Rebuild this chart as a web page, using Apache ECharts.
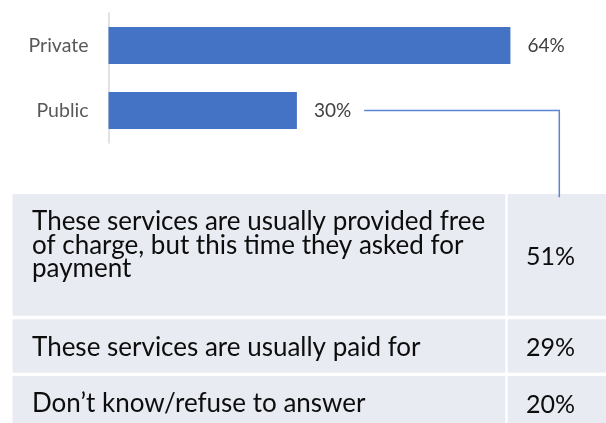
<!DOCTYPE html>
<html>
<head>
<meta charset="utf-8">
<script src="https://cdn.jsdelivr.net/npm/echarts@6/dist/echarts.min.js"></script>
<style>
  html, body { margin: 0; padding: 0; background: #fff; }
  #chart { width: 606px; height: 423px; }
</style>
</head>
<body>
<div id="chart"></div>
<script>
// Provider type shares
const categories = ['Private', 'Public'];
const shares = [64, 30];

// Breakdown of the public-provider answers
const answerLabels = [
  'These services are usually provided free of charge, but this time they asked for payment',
  'These services are usually paid for',
  'Don\u2019t know/refuse to answer'
];
const answerShares = [51, 29, 20];

const FONT = 'Lato, "Noto Sans", sans-serif';
const chart = echarts.init(document.getElementById('chart'), null, { renderer: 'canvas' });

// Table layout
const tableLeft = 12.5, col1Right = 505.3, col2Left = 507.7, tableRight = 612;
const rowTops = [194, 319.3, 376];
const rowBottoms = [315.7, 372.7, 430];
const labelFont = 26, valueFont = 25, tableLineHeight = 23.5;

const tableGraphics = [];
answerLabels.forEach((label, i) => {
  const top = rowTops[i], bottom = rowBottoms[i];
  tableGraphics.push({
    type: 'rect', z: 1,
    shape: { x: tableLeft, y: top, width: col1Right - tableLeft, height: bottom - top },
    style: { fill: '#E8EBF2' }
  });
  tableGraphics.push({
    type: 'rect', z: 1,
    shape: { x: col2Left, y: top, width: tableRight - col2Left, height: bottom - top },
    style: { fill: '#E8EBF2' }
  });
  tableGraphics.push({
    type: 'text', z: 2,
    x: 32, y: top + 28 - tableLineHeight / 2,
    style: {
      text: label, fill: '#0D0D0D', font: labelFont + 'px ' + FONT,
      width: 466, overflow: 'break', lineHeight: tableLineHeight,
      align: 'left', verticalAlign: 'top'
    }
  });
  tableGraphics.push({
    type: 'text', z: 2,
    x: 526, y: (top + bottom) / 2 + 2,
    style: {
      text: answerShares[i] + '%', fill: '#0D0D0D', font: valueFont + 'px ' + FONT,
      align: 'left', verticalAlign: 'middle'
    }
  });
});

chart.setOption({
  animation: false,
  backgroundColor: '#fff',
  grid: { left: 108.5, top: 13, width: 439.6, height: 130, containLabel: false },
  xAxis: {
    type: 'value', min: 0, max: 70,
    show: false
  },
  yAxis: {
    type: 'category', data: categories, inverse: true,
    axisLine: { show: true, lineStyle: { color: '#D9D9D9', width: 1.5 } },
    axisTick: { show: false },
    axisLabel: { color: '#595959', fontFamily: FONT, fontSize: 19.5, margin: 20 }
  },
  series: [{
    type: 'bar',
    data: shares,
    barWidth: 37,
    itemStyle: { color: '#4472C4' },
    label: {
      show: true, position: 'right', distance: 17,
      formatter: '{c}%', color: '#404040', fontFamily: FONT, fontSize: 19
    }
  }],
  graphic: tableGraphics
});

// Connector from the Public value label down into the table
const ctx = document.createElement('canvas').getContext('2d');
ctx.font = '19px ' + FONT;
const pubIdx = 1;
const pubEnd = chart.convertToPixel({ gridIndex: 0 }, [shares[pubIdx], categories[pubIdx]]);
const labelW = ctx.measureText(shares[pubIdx] + '%').width;
const startX = pubEnd[0] + 17 + labelW + 13;
const cornerX = 559.3;
const endY = rowTops[0] + 3.3;

chart.setOption({
  graphic: tableGraphics.concat([{
    type: 'polyline', z: 5,
    shape: { points: [[startX, pubEnd[1]], [cornerX, pubEnd[1]], [cornerX, endY]] },
    style: { stroke: '#5B85D1', lineWidth: 1.5, fill: null }
  }])
});
</script>
</body>
</html>
